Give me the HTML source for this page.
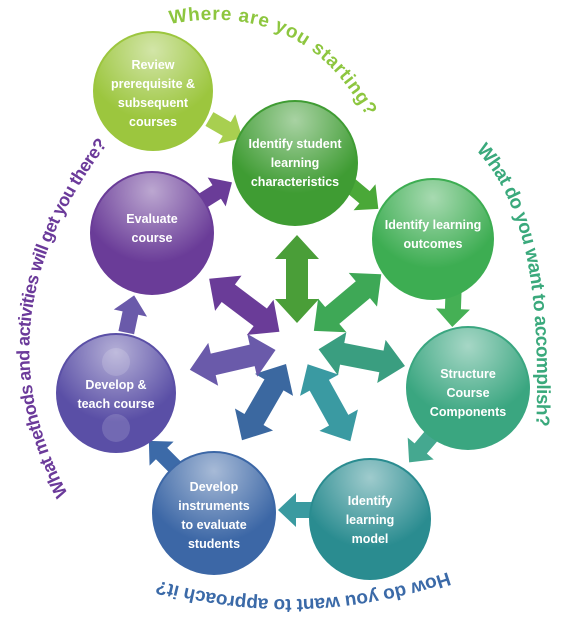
<!DOCTYPE html>
<html><head><meta charset="utf-8"><style>
html,body{margin:0;padding:0;background:#fff;}
svg{display:block;}
.c text{font-family:"Liberation Sans",sans-serif;font-weight:bold;font-size:12.5px;fill:#fff;text-anchor:middle;}
.arc{font-family:"Liberation Sans",sans-serif;font-weight:bold;font-size:19px;}
</style></head><body>
<svg width="576" height="632" viewBox="0 0 576 632" xmlns="http://www.w3.org/2000/svg">
<defs>
<radialGradient id="gl" cx="0.5" cy="0.15" r="0.6"><stop offset="0" stop-color="#fff" stop-opacity="0.55"/><stop offset="1" stop-color="#fff" stop-opacity="0"/></radialGradient>
<path id="pTop" d="M170,24 Q300,0 364,112"/>
<path id="pRight" d="M476,150 C522,200 542,280 536,430"/>
<path id="pBot" d="M448,572 Q300,622 156,580"/>
<path id="pLeft" d="M68,494 Q-25,320 106,146"/>
<g id="dbl"><polygon points="22,0 46,-22 46,-11 86,-11 86,-22 110,0 86,22 86,11 46,11 46,22"/></g>
<g id="sa"><polygon points="-18,-8 2,-8 2,-17 20,0 2,17 2,8 -18,8"/></g>
</defs>

<!-- arc texts -->
<text class="arc" fill="#8dc63f"><textPath href="#pTop" textLength="235" lengthAdjust="spacing">Where are you starting?</textPath></text>
<text class="arc" fill="#3aa97c"><textPath href="#pRight" textLength="290" lengthAdjust="spacing">What do you want to accomplish?</textPath></text>
<text class="arc" fill="#3b6aa8"><textPath href="#pBot" textLength="295" lengthAdjust="spacing">How do you want to approach it?</textPath></text>
<text class="arc" fill="#6b3a9a" style="font-size:18px"><textPath href="#pLeft" textLength="375" lengthAdjust="spacing">What methods and activities will get you there?</textPath></text>

<!-- center star arrows -->
<g transform="translate(297,345)">
<use href="#dbl" fill="#4a9e38" transform="rotate(-90)"/>
<use href="#dbl" fill="#3ea856" transform="rotate(-40)"/>
<use href="#dbl" fill="#3a9e80" transform="rotate(11)"/>
<use href="#dbl" fill="#3a9aa2" transform="rotate(61)"/>
<use href="#dbl" fill="#3b68a0" transform="rotate(120)"/>
<use href="#dbl" fill="#6a5aaa" transform="rotate(167)"/>
<use href="#dbl" fill="#6a3c98" transform="rotate(-143)"/>
</g>

<!-- small connector arrows -->
<use href="#sa" fill="#a8cf50" transform="translate(225,128) rotate(30)"/>
<use href="#sa" fill="#4aa838" transform="translate(363,196) rotate(40)"/>
<use href="#sa" fill="#45b055" transform="translate(453,307) rotate(92)"/>
<use href="#sa" fill="#45a890" transform="translate(422,447) rotate(130)"/>
<use href="#sa" fill="#3a9aa0" transform="translate(298,510) rotate(180)"/>
<use href="#sa" fill="#3c6aa8" transform="translate(163,455) rotate(-135)"/>
<use href="#sa" fill="#6a5aaa" transform="translate(130,315) rotate(-78)"/>
<use href="#sa" fill="#6a3c98" transform="translate(215,193) rotate(-32)"/>

<!-- circles -->
<g class="c">
<circle cx="153" cy="91" r="60" fill="#9cc63e"/><circle cx="153" cy="91" r="58" fill="url(#gl)"/>
<text x="153" y="69">Review</text><text x="153" y="88">prerequisite &amp;</text><text x="153" y="107">subsequent</text><text x="153" y="126">courses</text>

<circle cx="295" cy="163" r="63" fill="#3f9c33"/><circle cx="295" cy="163" r="61" fill="url(#gl)"/>
<text x="295" y="148">Identify student</text><text x="295" y="167">learning</text><text x="295" y="186">characteristics</text>

<circle cx="433" cy="239" r="61" fill="#3dad52"/><circle cx="433" cy="239" r="59" fill="url(#gl)"/>
<text x="433" y="229">Identify learning</text><text x="433" y="248">outcomes</text>

<circle cx="468" cy="388" r="62" fill="#3aa680"/><circle cx="468" cy="388" r="60" fill="url(#gl)"/>
<text x="468" y="378">Structure</text><text x="468" y="397">Course</text><text x="468" y="416">Components</text>

<circle cx="370" cy="519" r="61" fill="#2a8c90"/><circle cx="370" cy="519" r="59" fill="url(#gl)"/>
<text x="370" y="505">Identify</text><text x="370" y="524">learning</text><text x="370" y="543">model</text>

<circle cx="214" cy="513" r="62" fill="#3c67a6"/><circle cx="214" cy="513" r="60" fill="url(#gl)"/>
<text x="214" y="491">Develop</text><text x="214" y="510">instruments</text><text x="214" y="529">to evaluate</text><text x="214" y="548">students</text>

<circle cx="116" cy="393" r="60" fill="#5a4fa6"/><circle cx="116" cy="393" r="58" fill="url(#gl)"/>
<circle cx="116" cy="362" r="14" fill="#fff" opacity="0.15"/><circle cx="116" cy="428" r="14" fill="#fff" opacity="0.15"/>
<text x="116" y="389">Develop &amp;</text><text x="116" y="408">teach course</text>

<circle cx="152" cy="233" r="62" fill="#6a3c98"/><circle cx="152" cy="233" r="60" fill="url(#gl)"/>
<text x="152" y="223">Evaluate</text><text x="152" y="242">course</text>
</g>
</svg>
</body></html>
